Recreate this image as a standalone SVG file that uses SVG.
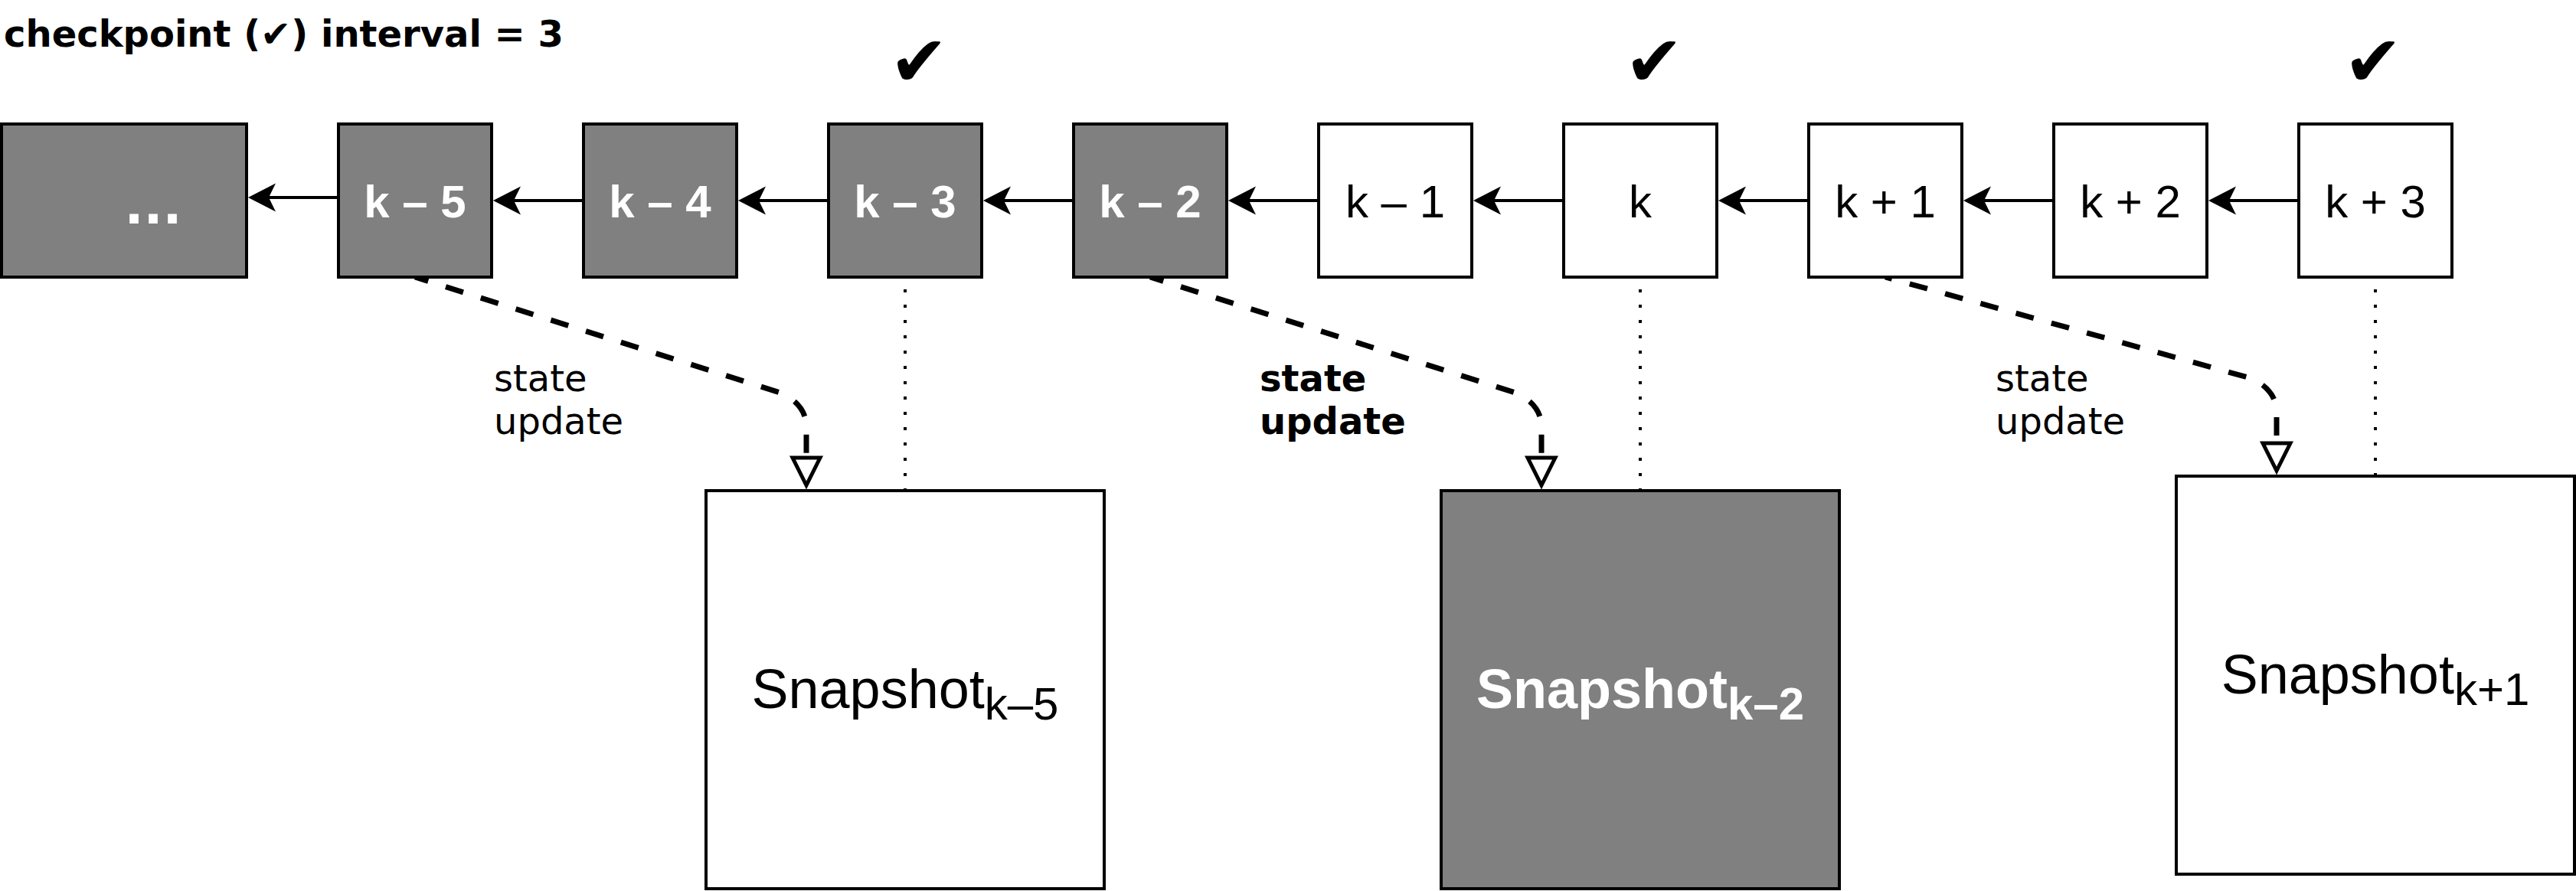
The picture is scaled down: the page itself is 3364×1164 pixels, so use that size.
<svg xmlns="http://www.w3.org/2000/svg" width="3364" height="1164" viewBox="0 0 3364 1164">
<defs>
<style>
.gbox{fill:#808080;stroke:#000;stroke-width:4}
.wbox{fill:#fff;stroke:#000;stroke-width:4}
.lbl{font-family:"Liberation Sans",Arial,sans-serif;font-size:60px;text-anchor:middle;fill:#000}
.lblw{font-weight:bold;fill:#fff}
.snap{font-family:"Liberation Sans",Arial,sans-serif;font-size:72px;text-anchor:middle;fill:#000}
.snapw{font-weight:bold;fill:#fff}
.note{font-family:"DejaVu Sans",Verdana,sans-serif;font-size:48px;fill:#000}
.bold{font-weight:bold}
.check{font-family:"DejaVu Sans",sans-serif;font-size:92px;font-weight:bold;text-anchor:middle;fill:#000}
.edge{stroke:#000;stroke-width:4;fill:none;marker-end:url(#arrow)}
.dash{stroke:#000;stroke-width:7;stroke-dasharray:24 24;fill:none;marker-end:url(#open)}
.dot{stroke:#000;stroke-width:4;stroke-dasharray:4 16;fill:none}
</style>
<marker id="arrow" markerUnits="userSpaceOnUse" viewBox="0 0 40 40" markerWidth="40" markerHeight="40" refX="26" refY="20" orient="auto">
<path d="M36,20 L0,1.5 L9,20 L0,38.5 Z" fill="#000" stroke="none"/>
</marker>
<marker id="open" markerUnits="userSpaceOnUse" viewBox="-4 -24 48 48" markerWidth="48" markerHeight="48" refX="0" refY="0" orient="auto">
<path d="M0,-18 L36,0 L0,18 Z" fill="#fff" stroke="#000" stroke-width="5" stroke-dasharray="none"/>
</marker>
</defs>
<rect width="3364" height="1164" fill="#fff"/>

<text class="note bold" x="5" y="61">checkpoint (✔) interval = 3</text>

<g id="checks">
<text class="check" x="1200" y="112">✔</text>
<text class="check" x="2160" y="112">✔</text>
<text class="check" x="3099" y="112">✔</text>
</g>

<g id="connectors">
<line class="edge" x1="442" y1="258" x2="334" y2="258"/>
<line class="edge" x1="762" y1="262" x2="654" y2="262"/>
<line class="edge" x1="1082" y1="262" x2="974" y2="262"/>
<line class="edge" x1="1402" y1="262" x2="1294" y2="262"/>
<line class="edge" x1="1722" y1="262" x2="1614" y2="262"/>
<line class="edge" x1="2042" y1="262" x2="1934" y2="262"/>
<line class="edge" x1="2362" y1="262" x2="2254" y2="262"/>
<line class="edge" x1="2682" y1="262" x2="2574" y2="262"/>
<line class="edge" x1="3002" y1="262" x2="2894" y2="262"/>
<path class="dash" stroke-dashoffset="6" d="M542,362 L1019,513 Q1053,528 1053,558 L1053,598"/>
<path class="dash" stroke-dashoffset="6" d="M1502,362 L1979,513 Q2013,528 2013,558 L2013,598"/>
<path class="dash" stroke-dashoffset="15" d="M2462,362 L2939,494 Q2973,509 2973,539 L2973,579"/>
<line class="dot" x1="1182" y1="378" x2="1182" y2="641"/>
<line class="dot" x1="2142" y1="378" x2="2142" y2="641"/>
<line class="dot" x1="3102" y1="378" x2="3102" y2="622"/>
</g>

<g id="edge-labels">
<text class="note" x="645" y="511">state</text>
<text class="note" x="645" y="567">update</text>
<text class="note bold" x="1645" y="511">state</text>
<text class="note bold" x="1645" y="567">update</text>
<text class="note" x="2606" y="511">state</text>
<text class="note" x="2606" y="567">update</text>
</g>

<g id="node-ellipsis"><rect class="gbox" x="2" y="162" width="320" height="200"/><text x="200" y="292" font-family="DejaVu Sans, sans-serif" font-weight="bold" font-size="66" fill="#fff" text-anchor="middle">...</text></g>
<g id="node-k-5"><rect class="gbox" x="442" y="162" width="200" height="200"/><text class="lbl lblw" x="542" y="284">k – 5</text></g>
<g id="node-k-4"><rect class="gbox" x="762" y="162" width="200" height="200"/><text class="lbl lblw" x="862" y="284">k – 4</text></g>
<g id="node-k-3"><rect class="gbox" x="1082" y="162" width="200" height="200"/><text class="lbl lblw" x="1182" y="284">k – 3</text></g>
<g id="node-k-2"><rect class="gbox" x="1402" y="162" width="200" height="200"/><text class="lbl lblw" x="1502" y="284">k – 2</text></g>
<g id="node-k-1"><rect class="wbox" x="1722" y="162" width="200" height="200"/><text class="lbl" x="1822" y="284">k – 1</text></g>
<g id="node-k"><rect class="wbox" x="2042" y="162" width="200" height="200"/><text class="lbl" x="2142" y="284">k</text></g>
<g id="node-k+1"><rect class="wbox" x="2362" y="162" width="200" height="200"/><text class="lbl" x="2462" y="284">k + 1</text></g>
<g id="node-k+2"><rect class="wbox" x="2682" y="162" width="200" height="200"/><text class="lbl" x="2782" y="284">k + 2</text></g>
<g id="node-k+3"><rect class="wbox" x="3002" y="162" width="200" height="200"/><text class="lbl" x="3102" y="284">k + 3</text></g>

<g id="snapshot-k-5"><rect class="wbox" x="922" y="641" width="520" height="520"/><text class="snap" x="1182" y="925">Snapshot<tspan font-size="60" dy="15">k–5</tspan></text></g>
<g id="snapshot-k-2"><rect class="gbox" x="1882" y="641" width="520" height="520"/><text class="snap snapw" x="2142" y="925">Snapshot<tspan font-size="60" dy="15">k–2</tspan></text></g>
<g id="snapshot-k+1"><rect class="wbox" x="2842" y="622" width="520" height="520"/><text class="snap" x="3102" y="906">Snapshot<tspan font-size="60" dy="15">k+1</tspan></text></g>
</svg>
